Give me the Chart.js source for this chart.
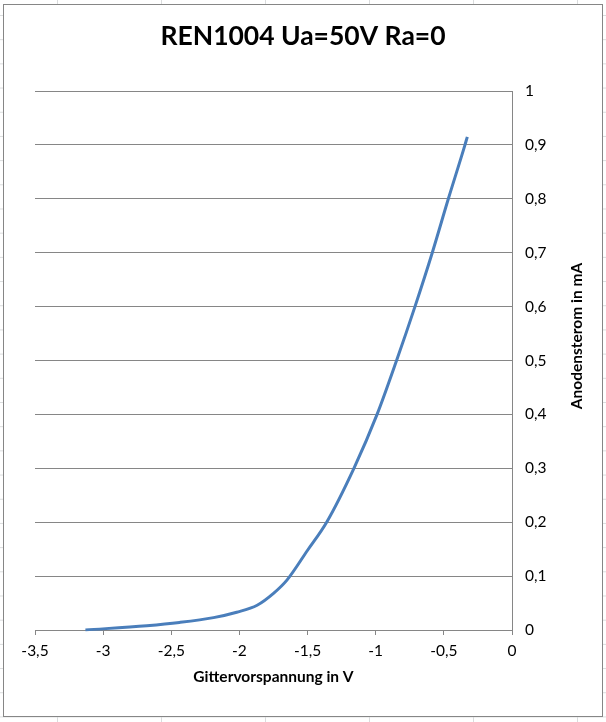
<!DOCTYPE html>
<html>
<head>
<meta charset="utf-8">
<script src="https://cdn.jsdelivr.net/npm/chart.js"></script>
<style>
  html, body { margin: 0; padding: 0; }
  body {
    width: 606px; height: 722px; overflow: hidden;
    background-color: #fff;
    background-image:
      linear-gradient(to right, #dadcdd 1px, transparent 1px),
      linear-gradient(to bottom, #dadcdd 1px, transparent 1px);
    background-size: 104px 100%, 100% 24.2px;
    background-position: 57px 0, 0 15px;
  }
  #box {
    position: absolute; left: 3px; top: 4px;
    width: 600px; height: 713px;
    box-sizing: border-box;
    border: 1px solid #868686;
    background: #fff;
  }
</style>
</head>
<body>
<div id="box"><canvas id="tubeChart"></canvas></div>
<script>
// Gitterspannung (V) und Anodenstrom (mA)
const gridVoltage = [-3.13, -2.68, -2.44, -2.19, -2.02, -1.87, -1.75, -1.65, -1.50, -1.36,
                     -1.16, -0.99, -0.847, -0.712, -0.585, -0.467, -0.345, -0.328];
const anodeCurrent = [0, 0.008, 0.014, 0.023, 0.033, 0.046, 0.068, 0.093, 0.148, 0.200,
                      0.300, 0.400, 0.500, 0.600, 0.700, 0.800, 0.900, 0.915];

const chartTitle = 'REN1004 Ua=50V Ra=0';
const xTitle = 'Gittervorspannung in V';
const yTitle = 'Anodensterom in mA';

const fontFamily = 'Lato, "Open Sans", sans-serif';
const gridColor = '#868686';
const labelSize = 15.5;

const points = gridVoltage.map((v, i) => ({ x: v, y: anodeCurrent[i] }));

const fmt = v => String(Number(v.toFixed(1))).replace('.', ',');

// y-axis title on the right, reading bottom to top like Excel
const rightTitle = {
    id: 'rightTitle',
    afterDraw(chart) {
        const c = chart.ctx;
        c.save();
        c.translate(573, 331);
        c.rotate(-Math.PI / 2);
        c.font = 'bold ' + labelSize + 'px ' + fontFamily;
        c.fillStyle = '#000';
        c.textAlign = 'center';
        c.textBaseline = 'middle';
        c.fillText(yTitle, 0, 0);
        c.restore();
    }
};

const ctx = document.getElementById('tubeChart').getContext('2d');
const tubeChart = new Chart(ctx, {
    type: 'scatter',
    data: {
        datasets: [{
            data: points,
            showLine: true,
            borderColor: '#4a7ebb',
            borderWidth: 3,
            pointRadius: 0,
            cubicInterpolationMode: 'monotone',
            fill: false
        }]
    },
    plugins: [rightTitle],
    options: {
        responsive: true,
        maintainAspectRatio: false,
        animation: false,
        layout: {
            padding: 0
        },
        plugins: {
            legend: { display: false },
            tooltip: { enabled: false },
            title: {
                display: true,
                text: chartTitle,
                color: '#000',
                font: { family: fontFamily, size: 26.5, weight: 'bold' },
                padding: { top: 16, bottom: 38.2 }
            }
        },
        scales: {
            x: {
                type: 'linear',
                min: -3.5,
                max: 0,
                afterFit: scale => { scale.height = 86; },
                grid: {
                    drawOnChartArea: false,
                    drawTicks: true,
                    tickLength: 5,
                    color: gridColor
                },
                border: { display: true, color: gridColor },
                ticks: {
                    stepSize: 0.5,
                    color: '#000',
                    padding: 7,
                    maxRotation: 0,
                    font: { family: fontFamily, size: labelSize },
                    callback: value => fmt(value)
                },
                title: {
                    display: true,
                    text: xTitle,
                    color: '#000',
                    font: { family: fontFamily, size: labelSize, weight: 'bold' },
                    padding: { top: 4, bottom: 29.5 }
                }
            },
            // empty left margin so the chart title stays centred on the whole box
            spacer: {
                position: 'left',
                display: true,
                afterFit: scale => { scale.width = 31; },
                grid: { display: false },
                border: { display: false },
                ticks: { display: false }
            },
            y: {
                position: 'right',
                min: 0,
                max: 1,
                afterFit: scale => { scale.width = 90; },
                grid: {
                    drawTicks: false,
                    color: gridColor
                },
                border: { display: true, color: gridColor },
                ticks: {
                    stepSize: 0.1,
                    color: '#000',
                    padding: 13,
                    font: { family: fontFamily, size: labelSize },
                    callback: value => fmt(value)
                }
            }
        }
    }
});
</script>
</body>
</html>
